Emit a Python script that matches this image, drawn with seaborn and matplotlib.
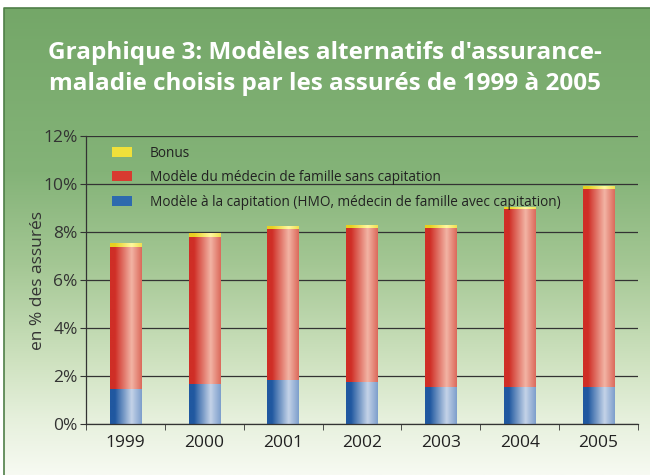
import numpy as np
import pandas as pd
import seaborn as sns
import matplotlib.pyplot as plt
from matplotlib.colors import LinearSegmentedColormap

# Values (% of insured)
years = ['1999', '2000', '2001', '2002', '2003', '2004', '2005']
capitation = [1.46, 1.67, 1.82, 1.74, 1.53, 1.53, 1.56]
family_doctor = [5.93, 6.13, 6.29, 6.41, 6.62, 7.41, 8.24]
bonus = [0.15, 0.14, 0.14, 0.14, 0.14, 0.12, 0.12]

labels = ['Bonus',
          'Modèle du médecin de famille sans capitation',
          'Modèle à la capitation (HMO, médecin de famille avec capitation)']
yticks = [0, 2, 4, 6, 8, 10, 12]

df = pd.DataFrame({'year': years, 'cap': capitation, 'fam': family_doctor, 'bonus': bonus})
df['top_fam'] = df['cap'] + df['fam']
df['top_bonus'] = df['top_fam'] + df['bonus']

sns.set_style('white')
plt.rcParams['font.family'] = ['Open Sans', 'DejaVu Sans']

fig = plt.figure(figsize=(6.5, 4.75), dpi=100)

# background: green at top fading to near white at bottom
bg = fig.add_axes([0, 0, 1, 1], zorder=-10)
bg_cmap = LinearSegmentedColormap.from_list('bg', [
    (0.00, '#74a768'), (0.35, '#84b378'), (0.55, '#a4c794'),
    (0.75, '#cde1be'), (0.88, '#e6f0dc'), (1.00, '#f7faf2')])
grad = np.linspace(0, 1, 256).reshape(-1, 1)
bg.imshow(grad, aspect='auto', cmap=bg_cmap, extent=[4, 650, 475, 8])
bg.plot([4, 4, 650], [475, 8, 8], color='#4f7f48', lw=1.2)
bg.set_xlim(0, 650)
bg.set_ylim(475, 0)
bg.axis('off')

fig.text(0.5, 0.856, "Graphique 3: Modèles alternatifs d'assurance-\nmaladie choisis par les assurés de 1999 à 2005",
         ha='center', va='center', color='white', fontsize=17.5, fontweight='bold', linespacing=1.4)

ax = fig.add_axes([86 / 650, 1 - 424 / 475, (638 - 86) / 650, (424 - 136) / 475])
ax.set_facecolor('none')

width = 0.4
bar_kw = dict(width=width, ax=ax, saturation=1, linewidth=0)
sns.barplot(data=df, x='year', y='top_bonus', color='#f0e03a', label=labels[0], **bar_kw)
sns.barplot(data=df, x='year', y='top_fam', color='#d83a30', label=labels[1], **bar_kw)
sns.barplot(data=df, x='year', y='cap', color='#2e6aae', label=labels[2], **bar_kw)

# cylinder-like shading laid over each bar
def shade(dark, light, edge):
    return LinearSegmentedColormap.from_list('s', [(0, dark), (0.15, dark), (0.68, light), (1, edge)])

layer_cmaps = [shade('#e8d020', '#fff8a0', '#f0e050'),
               shade('#cf2e26', '#f2b4a4', '#dc6a5c'),
               shade('#2058a0', '#c4d3e8', '#7e9fcc')]
strip = np.linspace(0, 1, 64).reshape(1, -1)
n = len(years)
for i, patch in enumerate(ax.patches[:3 * n]):
    layer = i // n
    x0, y0 = patch.get_x(), patch.get_y()
    w, h = patch.get_width(), patch.get_height()
    im = ax.imshow(strip, aspect='auto', cmap=layer_cmaps[layer],
                   extent=[x0, x0 + w, y0, y0 + h], zorder=2 + 0.1 * layer)
    im.set_clip_path(patch)
    patch.set_zorder(2 + 0.1 * layer)

ax.set_xlim(-0.5, n - 0.5)
ax.set_ylim(0, 12)
ax.set_aspect('auto')
ax.set_yticks(yticks)
ax.set_yticklabels([f'{t}%' for t in yticks], fontsize=12.5, color='#333333')
ax.set_xticks(range(n))
ax.set_xticklabels(years, fontsize=12.5, color='#222222')
ax.set_xticks(np.arange(-0.5, n, 1), minor=True)
ax.tick_params(axis='x', which='major', length=0, pad=8)
ax.tick_params(axis='x', which='minor', length=4, color='#333333', direction='out', bottom=True)
ax.tick_params(axis='y', length=4, color='#333333', direction='out', left=True, pad=2)
ax.set_xlabel('')
ax.set_ylabel('en % des assurés', fontsize=12.5, color='#333333')
ax.yaxis.set_label_coords(-0.072, 0.5)
ax.yaxis.grid(True, color='#333333', lw=0.9)
ax.set_axisbelow(True)
for side in ['top', 'right']:
    ax.spines[side].set_visible(False)
for side in ['left', 'bottom']:
    ax.spines[side].set_color('#333333')
    ax.spines[side].set_linewidth(0.9)

handles, _ = ax.get_legend_handles_labels()
leg = ax.legend(handles[:3], labels, loc='upper left', bbox_to_anchor=(0.03, 1.0), frameon=False,
                fontsize=9.8, handlelength=1.45, handleheight=0.75, labelspacing=0.7,
                handletextpad=1.3, borderaxespad=0.3)
for t in leg.get_texts():
    t.set_color('#222222')

fig.savefig('out.png', dpi=100)
